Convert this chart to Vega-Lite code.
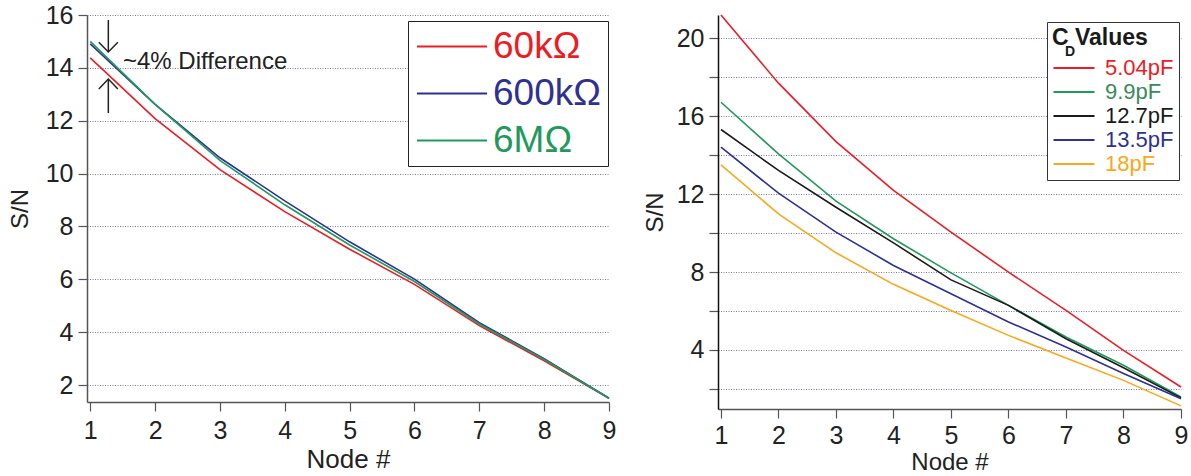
{
  "$schema": "https://vega.github.io/schema/vega-lite/v6.json",
  "background": "white",
  "padding": {"left": 8, "top": 3, "right": 0, "bottom": 0},
  "config": {
    "font": "Liberation Sans",
    "view": {"stroke": null},
    "axis": {"labelFont": "Liberation Sans", "titleFont": "Liberation Sans", "labelColor": "#222", "titleColor": "#222", "titleFontWeight": "normal", "labelOverlap": false, "labelFlush": false},
    "legend": {"labelFont": "Liberation Sans", "titleFont": "Liberation Sans"}
  },
  "bounds": "flush",
  "spacing": 109,
  "resolve": {"scale": {"color": "independent", "x": "independent", "y": "independent"}, "legend": {"color": "independent"}},
  "hconcat": [
    {
      "width": 522,
      "height": 387,
      "layer": [
        {
          "data": {"values": [
            {"node": 1, "sn": 14.38, "R": "60kΩ"}, {"node": 2, "sn": 12.08, "R": "60kΩ"}, {"node": 3, "sn": 10.15, "R": "60kΩ"}, {"node": 4, "sn": 8.56, "R": "60kΩ"}, {"node": 5, "sn": 7.14, "R": "60kΩ"}, {"node": 6, "sn": 5.81, "R": "60kΩ"}, {"node": 7, "sn": 4.25, "R": "60kΩ"}, {"node": 8, "sn": 2.92, "R": "60kΩ"}, {"node": 9, "sn": 1.5, "R": "60kΩ"},
            {"node": 1, "sn": 14.91, "R": "600kΩ"}, {"node": 2, "sn": 12.62, "R": "600kΩ"}, {"node": 3, "sn": 10.6, "R": "600kΩ"}, {"node": 4, "sn": 8.97, "R": "600kΩ"}, {"node": 5, "sn": 7.42, "R": "600kΩ"}, {"node": 6, "sn": 6.01, "R": "600kΩ"}, {"node": 7, "sn": 4.36, "R": "600kΩ"}, {"node": 8, "sn": 3.0, "R": "600kΩ"}, {"node": 9, "sn": 1.5, "R": "600kΩ"},
            {"node": 1, "sn": 15.0, "R": "6MΩ"}, {"node": 2, "sn": 12.62, "R": "6MΩ"}, {"node": 3, "sn": 10.5, "R": "6MΩ"}, {"node": 4, "sn": 8.82, "R": "6MΩ"}, {"node": 5, "sn": 7.3, "R": "6MΩ"}, {"node": 6, "sn": 5.92, "R": "6MΩ"}, {"node": 7, "sn": 4.31, "R": "6MΩ"}, {"node": 8, "sn": 2.97, "R": "6MΩ"}, {"node": 9, "sn": 1.5, "R": "6MΩ"}
          ]},
          "mark": {"type": "line", "strokeWidth": 1.6},
          "encoding": {
            "x": {"field": "node", "type": "quantitative", "scale": {"domain": [0.95, 9], "nice": false, "zero": false},
              "axis": {"values": [1, 2, 3, 4, 5, 6, 7, 8, 9], "format": "d", "title": "Node #", "titleFontSize": 26, "labelFontSize": 25, "tickSize": 9, "tickColor": "#555", "tickWidth": 1.2, "domainColor": "#555", "domainWidth": 1.5, "grid": false, "labelPadding": 7, "titlePadding": 3}},
            "y": {"field": "sn", "type": "quantitative", "scale": {"domain": [1.36, 16], "nice": false, "zero": false},
              "axis": {"values": [2, 3, 4, 5, 6, 7, 8, 9, 10, 11, 12, 13, 14, 15, 16], "format": "d", "labelExpr": "datum.value % 2 === 0 ? datum.label : ''", "title": "S/N", "titleFontSize": 24, "labelFontSize": 25, "tickSize": 9, "tickColor": "#555", "tickWidth": 1.2, "domainColor": "#555", "domainWidth": 1.5, "grid": true, "gridColor": "#7474c4", "gridDash": [1, 1.5], "gridWidth": 1, "labelPadding": 5, "titlePadding": 13}},
            "color": {"field": "R", "type": "nominal", "scale": {"domain": ["60kΩ", "600kΩ", "6MΩ"], "range": ["#ed1c24", "#2e3192", "#1f9a5c"]},
              "legend": {"orient": "none", "legendX": 321, "legendY": 6, "title": null, "symbolType": "M-3.3,0H10.7", "symbolSize": 100, "symbolStrokeWidth": 2, "labelFontSize": 37, "labelOffset": 41, "rowPadding": 9, "padding": 7, "strokeColor": "#222", "fillColor": "white",
                "encode": {"labels": {"update": {"fill": {"signal": "datum.value === '60kΩ' ? '#ed1c24' : datum.value === '600kΩ' ? '#2e3192' : '#1f9a5c'"}}}}}}
          }
        },
        {
          "data": {"values": [{"node": 1.279, "sn": 15.81, "sn2": 14.6}, {"node": 1.279, "sn": 13.58, "sn2": 12.29}]},
          "mark": {"type": "rule", "color": "#222", "strokeWidth": 1.5},
          "encoding": {
            "x": {"field": "node", "type": "quantitative", "scale": {"domain": [0.95, 9], "nice": false, "zero": false}},
            "y": {"field": "sn", "type": "quantitative", "scale": {"domain": [1.36, 16], "nice": false, "zero": false}},
            "y2": {"field": "sn2"}
          }
        },
        {
          "data": {"values": [
            {"node": 1.132, "sn": 14.97, "id": "down"}, {"node": 1.279, "sn": 14.6, "id": "down"}, {"node": 1.426, "sn": 14.97, "id": "down"},
            {"node": 1.132, "sn": 13.2, "id": "up"}, {"node": 1.279, "sn": 13.58, "id": "up"}, {"node": 1.426, "sn": 13.2, "id": "up"}
          ]},
          "mark": {"type": "line", "color": "#222", "strokeWidth": 1.5},
          "encoding": {
            "x": {"field": "node", "type": "quantitative", "scale": {"domain": [0.95, 9], "nice": false, "zero": false}},
            "y": {"field": "sn", "type": "quantitative", "scale": {"domain": [1.36, 16], "nice": false, "zero": false}},
            "detail": {"field": "id"}
          }
        },
        {
          "data": {"values": [{"node": 1.505, "sn": 14.22, "label": "~4% Difference"}]},
          "mark": {"type": "text", "align": "left", "baseline": "middle", "fontSize": 24, "color": "#222"},
          "encoding": {
            "x": {"field": "node", "type": "quantitative", "scale": {"domain": [0.95, 9], "nice": false, "zero": false}},
            "y": {"field": "sn", "type": "quantitative", "scale": {"domain": [1.36, 16], "nice": false, "zero": false}},
            "text": {"field": "label"}
          }
        }
      ]
    },
    {
      "width": 463,
      "height": 394,
      "title": {"text": "D", "orient": "top", "anchor": "start", "frame": "group", "offset": 0, "dx": 347, "dy": 47, "fontSize": 14, "fontWeight": "bold", "color": "#1a1a1a", "font": "Liberation Sans"},
      "data": {"values": [
        {"node": 1, "sn": 21.2, "C": "5.04pF"}, {"node": 2, "sn": 17.7, "C": "5.04pF"}, {"node": 3, "sn": 14.7, "C": "5.04pF"}, {"node": 4, "sn": 12.19, "C": "5.04pF"}, {"node": 5, "sn": 10.05, "C": "5.04pF"}, {"node": 6, "sn": 8.0, "C": "5.04pF"}, {"node": 7, "sn": 6.03, "C": "5.04pF"}, {"node": 8, "sn": 3.98, "C": "5.04pF"}, {"node": 9, "sn": 2.1, "C": "5.04pF"},
        {"node": 1, "sn": 16.72, "C": "9.9pF"}, {"node": 2, "sn": 14.07, "C": "9.9pF"}, {"node": 3, "sn": 11.64, "C": "9.9pF"}, {"node": 4, "sn": 9.71, "C": "9.9pF"}, {"node": 5, "sn": 7.96, "C": "9.9pF"}, {"node": 6, "sn": 6.29, "C": "9.9pF"}, {"node": 7, "sn": 4.67, "C": "9.9pF"}, {"node": 8, "sn": 3.22, "C": "9.9pF"}, {"node": 9, "sn": 1.59, "C": "9.9pF"},
        {"node": 1, "sn": 15.32, "C": "12.7pF"}, {"node": 2, "sn": 13.22, "C": "12.7pF"}, {"node": 3, "sn": 11.33, "C": "12.7pF"}, {"node": 4, "sn": 9.5, "C": "12.7pF"}, {"node": 5, "sn": 7.6, "C": "12.7pF"}, {"node": 6, "sn": 6.29, "C": "12.7pF"}, {"node": 7, "sn": 4.58, "C": "12.7pF"}, {"node": 8, "sn": 3.09, "C": "12.7pF"}, {"node": 9, "sn": 1.54, "C": "12.7pF"},
        {"node": 1, "sn": 14.41, "C": "13.5pF"}, {"node": 2, "sn": 12.05, "C": "13.5pF"}, {"node": 3, "sn": 10.05, "C": "13.5pF"}, {"node": 4, "sn": 8.34, "C": "13.5pF"}, {"node": 5, "sn": 6.89, "C": "13.5pF"}, {"node": 6, "sn": 5.44, "C": "13.5pF"}, {"node": 7, "sn": 4.15, "C": "13.5pF"}, {"node": 8, "sn": 2.79, "C": "13.5pF"}, {"node": 9, "sn": 1.5, "C": "13.5pF"},
        {"node": 1, "sn": 13.5, "C": "18pF"}, {"node": 2, "sn": 10.99, "C": "18pF"}, {"node": 3, "sn": 8.99, "C": "18pF"}, {"node": 4, "sn": 7.37, "C": "18pF"}, {"node": 5, "sn": 6.03, "C": "18pF"}, {"node": 6, "sn": 4.75, "C": "18pF"}, {"node": 7, "sn": 3.59, "C": "18pF"}, {"node": 8, "sn": 2.44, "C": "18pF"}, {"node": 9, "sn": 1.13, "C": "18pF"}
      ]},
      "mark": {"type": "line", "strokeWidth": 1.6},
      "encoding": {
        "x": {"field": "node", "type": "quantitative", "scale": {"domain": [0.948, 9], "nice": false, "zero": false},
          "axis": {"values": [1, 2, 3, 4, 5, 6, 7, 8, 9], "format": "d", "title": "Node #", "titleFontSize": 24, "labelFontSize": 25, "tickSize": 9, "tickColor": "#555", "tickWidth": 1.2, "domainColor": "#555", "domainWidth": 1.5, "grid": false, "labelPadding": 5, "titlePadding": 2}},
        "y": {"field": "sn", "type": "quantitative", "scale": {"domain": [0.97, 21.2], "nice": false, "zero": false},
          "axis": {"values": [2, 4, 6, 8, 10, 12, 14, 16, 18, 20], "format": "d", "labelExpr": "datum.value % 4 === 0 ? datum.label : ''", "title": "S/N", "titleFontSize": 24, "labelFontSize": 25, "tickSize": 9, "tickColor": "#555", "tickWidth": 1.2, "domainColor": "#111", "domainWidth": 1.5, "grid": true, "gridColor": "#7474c4", "gridDash": [1, 1.5], "gridWidth": 1, "labelPadding": 5, "titlePadding": 9}},
        "color": {"field": "C", "type": "nominal", "scale": {"domain": ["5.04pF", "9.9pF", "12.7pF", "13.5pF", "18pF"], "range": ["#ed1c24", "#22995a", "#1a1a1a", "#2e3192", "#f7a81b"]},
          "legend": {"orient": "none", "legendX": 329, "legendY": 7, "title": "C  Values", "titleFontSize": 23, "titleFontWeight": "bold", "titleColor": "#1a1a1a", "titlePadding": 7, "symbolType": "M-1.9,0H6.3", "symbolSize": 100, "symbolStrokeWidth": 2, "labelFontSize": 22, "labelOffset": 31, "rowPadding": 2, "padding": 5, "strokeColor": "#333", "fillColor": "white",
            "encode": {"labels": {"update": {"fill": {"signal": "datum.value === '5.04pF' ? '#ed1c24' : datum.value === '9.9pF' ? '#3b8a5c' : datum.value === '12.7pF' ? '#1a1a1a' : datum.value === '13.5pF' ? '#2e3192' : '#f7a81b'"}}}}}}
      }
    }
  ]
}
